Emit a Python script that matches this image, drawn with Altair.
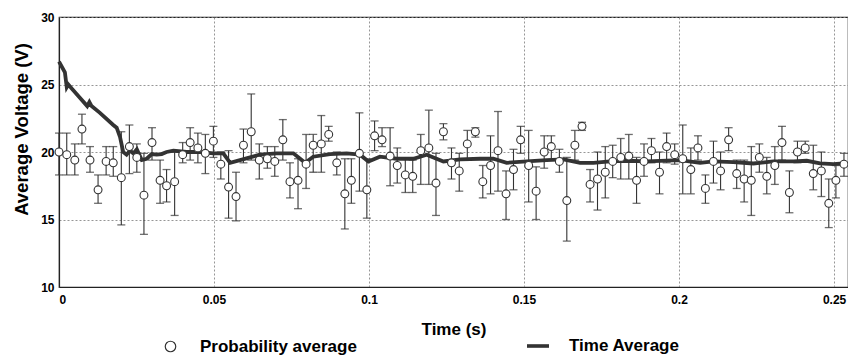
import altair as alt
import pandas as pd

# ---- data ----
t_points = [0, 0.0025, 0.0051, 0.0074, 0.0100, 0.0126, 0.0152, 0.0175, 0.0201, 0.0227,
            0.0251, 0.0274, 0.0300, 0.0326, 0.0347, 0.0373, 0.0399, 0.0423, 0.0448, 0.0472,
            0.0498, 0.0522, 0.0547, 0.0571, 0.0595, 0.0620, 0.0646, 0.0672, 0.0696, 0.0722,
            0.0745, 0.0771, 0.0797, 0.0820, 0.0846, 0.0870, 0.0896, 0.0922, 0.0943, 0.0969,
            0.0993, 0.1018, 0.1042, 0.1068, 0.1091, 0.1117, 0.1141, 0.1167, 0.1193, 0.1216,
            0.1240, 0.1266, 0.1291, 0.1317, 0.1343, 0.1367, 0.1392, 0.1416, 0.1442, 0.1466,
            0.1489, 0.1515, 0.1539, 0.1565, 0.1588, 0.1614, 0.1638, 0.1664,
            0.1687, 0.1713, 0.1737, 0.1762, 0.1786, 0.1812, 0.1838, 0.1863, 0.1887, 0.1911,
            0.1937, 0.1960, 0.1986, 0.2012, 0.2038, 0.2061, 0.2085, 0.2111, 0.2134, 0.2160,
            0.2186, 0.2210, 0.2233, 0.2259, 0.2283, 0.2309, 0.2332, 0.2356, 0.2382, 0.2407,
            0.2433, 0.2459, 0.2483, 0.2506, 0.2532]

prob_avg = [20.0, 19.8, 19.4, 21.7, 19.4, 17.2, 19.3, 19.2, 18.1, 20.4,
            19.6, 16.8, 20.7, 17.9, 17.5, 17.8, 19.8, 20.7, 20.3, 19.9,
            20.8, 19.1, 17.4, 16.7, 20.5, 21.5, 19.4, 19.5, 19.3, 20.9,
            17.8, 17.9, 19.1, 20.5, 20.6, 21.3, 19.2, 16.9, 17.9, 19.9,
            17.2, 21.2, 20.9, 19.7, 19.0, 18.3, 18.2, 20.1, 20.3, 17.7,
            21.5, 19.2, 18.6, 20.6, 21.5, 17.8, 19.0, 20.1, 16.9, 18.7,
            20.9, 19.0, 17.1, 20.0, 20.4, 19.3, 16.4, 20.5,
            21.9, 17.6, 18.0, 18.5, 19.3, 19.6, 19.7, 17.9, 19.3, 20.1,
            18.5, 20.4, 19.8, 19.5, 18.7, 20.3, 17.3, 19.3, 18.6, 20.9,
            18.4, 18.0, 17.9, 19.6, 18.2, 19.0, 20.7, 17.0, 20.0, 20.3,
            18.4, 18.6, 16.2, 17.9, 19.1]

err_low = [18.3, 18.3, 18.3, 20.6, 18.5, 16.2, 18.3, 18.2, 14.6, 18.4,
           18.5, 13.9, 19.4, 16.2, 16.3, 15.3, 19.2, 19.4, 19.2, 18.4,
           19.6, 18.0, 15.1, 14.9, 19.2, 19.4, 18.0, 18.8, 18.2, 19.4,
           16.6, 15.8, 17.3, 18.5, 18.5, 20.8, 18.3, 14.3, 16.2, 17.1,
           15.1, 20.1, 20.4, 17.5, 17.7, 17.0, 17.0, 17.6, 17.6, 15.3,
           20.9, 18.0, 17.1, 19.5, 21.1, 16.6, 16.9, 17.1, 15.0, 17.2,
           19.9, 16.3, 15.0, 18.8, 19.4, 18.5, 13.4, 19.4,
           21.6, 16.3, 15.7, 16.6, 18.1, 18.0, 18.0, 16.2, 18.2, 19.2,
           16.9, 19.2, 19.1, 16.9, 16.9, 19.4, 16.2, 17.7, 17.2, 20.1,
           17.3, 16.3, 15.3, 18.5, 16.9, 17.6, 19.4, 15.5, 19.2, 19.9,
           17.2, 16.7, 14.4, 16.6, 18.2]

err_high = [21.4, 21.4, 20.6, 22.8, 20.4, 18.3, 20.4, 20.4, 21.5, 22.0,
            20.6, 19.9, 21.8, 19.4, 18.7, 20.0, 20.7, 21.8, 21.4, 21.3,
            21.9, 20.0, 20.1, 18.5, 21.7, 24.3, 20.6, 20.4, 20.4, 22.4,
            19.2, 19.5, 21.3, 21.3, 22.7, 21.9, 20.0, 19.5, 19.5, 22.9,
            19.5, 22.3, 21.8, 21.8, 20.3, 19.5, 19.4, 21.3, 23.1, 19.9,
            22.1, 20.3, 19.9, 21.6, 21.8, 19.0, 21.2, 23.0, 18.6, 20.2,
            21.9, 21.6, 18.9, 21.2, 21.2, 20.2, 19.6, 21.6,
            22.2, 18.7, 20.0, 20.4, 20.5, 21.0, 21.3, 19.6, 20.6, 21.0,
            20.0, 21.4, 20.6, 22.0, 20.3, 21.2, 18.3, 20.8, 20.0, 21.8,
            19.4, 19.4, 20.4, 20.6, 19.6, 20.4, 21.9, 18.6, 20.8, 20.8,
            20.5, 20.0, 18.0, 19.0, 19.9]

t_line = [0, 0.0019, 0.0025, 0.0030, 0.0041, 0.0068, 0.0091, 0.0098, 0.0105, 0.0132,
          0.0175, 0.0186, 0.0197, 0.0207, 0.0218, 0.0229, 0.0240, 0.0251, 0.0267, 0.0283,
          0.0299, 0.0315, 0.0331, 0.0347, 0.0369, 0.0412, 0.0455, 0.0498, 0.0530, 0.0552,
          0.0584, 0.0648, 0.0702, 0.0756, 0.0794, 0.0820, 0.0874, 0.0928, 0.0971, 0.0998,
          0.1035, 0.1089, 0.1143, 0.1186, 0.1240, 0.1294, 0.1358, 0.1401, 0.1444, 0.1509,
          0.1573, 0.1627, 0.1681, 0.1724, 0.1777, 0.1831, 0.1896, 0.1939, 0.2003, 0.2068,
          0.2111, 0.2175, 0.2240, 0.2304, 0.2369, 0.2412, 0.2455, 0.2498, 0.2530]

time_avg = [26.7, 25.9, 24.8, 25.0, 24.7, 24.0, 23.4, 23.7, 23.4, 22.9,
            22.0, 21.8, 21.1, 20.0, 19.8, 20.1, 19.9, 20.2, 19.4, 19.5,
            19.85, 19.8, 19.85, 20.0, 20.1, 20.0, 20.0, 19.9, 19.9, 19.2,
            19.4, 19.8, 19.9, 19.9, 19.2, 19.65, 19.85, 19.9, 19.8, 19.3,
            19.65, 19.5, 19.5, 19.8, 19.3, 19.45, 19.5, 19.5, 19.2, 19.3,
            19.4, 19.45, 19.2, 19.2, 19.3, 19.35, 19.3, 19.35, 19.4, 19.2,
            19.3, 19.25, 19.15, 19.3, 19.3, 19.35, 19.15, 19.1, 19.15]

x_ticks = [0, 0.05, 0.1, 0.15, 0.2, 0.25]
y_ticks = [10, 15, 20, 25, 30]

pts = pd.DataFrame({"t": t_points, "v": prob_avg, "lo": err_low, "hi": err_high,
                    "series": "Probability average"})
ln = pd.DataFrame({"t": t_line, "v": time_avg, "series2": "Time Average"})

FONT = "Liberation Sans"
INK = "#333333"

xs = alt.Scale(domain=[0, 0.2545], nice=False, zero=False)
ys = alt.Scale(domain=[10, 30], nice=False, zero=False)

x_axis = alt.Axis(values=x_ticks, format="~g", title="Time (s)", grid=True, ticks=False,
                  labelPadding=7, titlePadding=16, titleFontSize=17)
y_axis = alt.Axis(values=y_ticks, title="Average Voltage (V)", grid=True, ticks=False,
                  labelPadding=5, titlePadding=9, titleFontSize=18.5, titleY=112)

base = alt.Chart(pts)

bars = base.mark_rule(color=INK, strokeWidth=1.1).encode(
    x=alt.X("t:Q", scale=xs, axis=x_axis),
    y=alt.Y("lo:Q", scale=ys, axis=y_axis),
    y2="hi:Q",
)
cap_lo = base.mark_tick(color=INK, orient="horizontal", size=8, thickness=1.3).encode(
    x=alt.X("t:Q", scale=xs), y=alt.Y("lo:Q", scale=ys))
cap_hi = base.mark_tick(color=INK, orient="horizontal", size=8, thickness=1.3).encode(
    x=alt.X("t:Q", scale=xs), y=alt.Y("hi:Q", scale=ys))

points = base.mark_point(shape="circle", filled=False, size=62, strokeWidth=1.1,
                         fill="white", fillOpacity=1).encode(
    x=alt.X("t:Q", scale=xs),
    y=alt.Y("v:Q", scale=ys),
    color=alt.Color("series:N", scale=alt.Scale(domain=["Probability average"], range=[INK]),
                    legend=alt.Legend(title=None, orient="none", legendX=103, legendY=321,
                                      symbolType="circle", symbolSize=110, symbolStrokeWidth=1.2,
                                      symbolFillColor="white", labelOffset=21)),
)

line = alt.Chart(ln).mark_line(strokeWidth=3.8, color=INK).encode(
    x=alt.X("t:Q", scale=xs),
    y=alt.Y("v:Q", scale=ys),
    color=alt.Color("series2:N", scale=alt.Scale(domain=["Time Average"], range=[INK]),
                    legend=alt.Legend(title=None, orient="none", legendX=466, legendY=316,
                                      symbolType="stroke", symbolSize=484, symbolStrokeWidth=3.6,
                                      labelOffset=18)),
)

chart = (
    alt.layer(line, bars, cap_lo, cap_hi, points)
    .resolve_scale(color="independent")
    .resolve_legend(color="independent")
    .properties(width=789, height=270,
                autosize=alt.AutoSizeParams(type="none"),
                padding={"left": 51, "top": 9, "right": 0, "bottom": 69})
    .configure_view(stroke="#222222", strokeWidth=1.2)
    .configure_axis(
        labelFont=FONT, titleFont=FONT, labelFontWeight="bold", titleFontWeight="bold",
        labelFontSize=12, labelColor="#000000", titleColor="#000000",
        domainColor="#222222", domainWidth=1.2,
        gridColor="#8a8a8a", gridDash=[2, 2], gridWidth=0.9,
    )
    .configure_legend(labelFont=FONT, labelFontWeight="bold", labelFontSize=17,
                      labelColor="#000000", direction="horizontal")
)

chart.save("out.html", embed_options={"renderer": "svg", "actions": False})
